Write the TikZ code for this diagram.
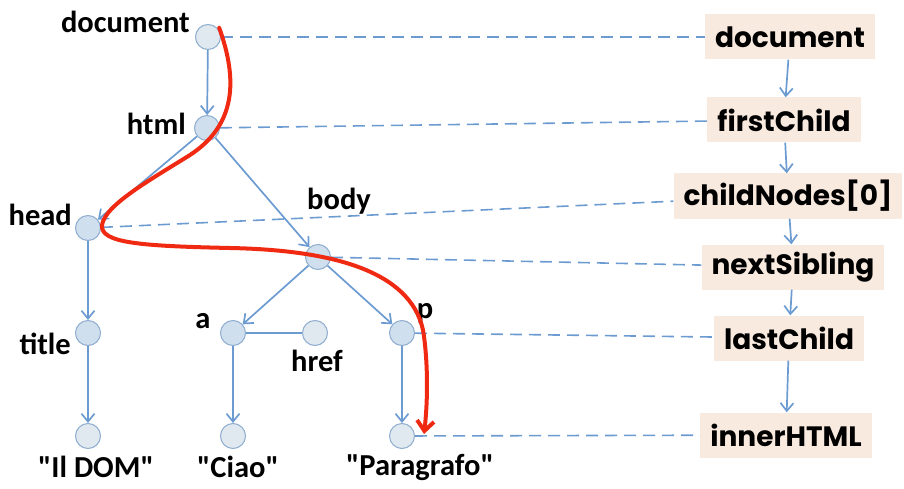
\documentclass[tikz,border=0pt]{standalone}
\usepackage{fontspec}
\setmainfont{Carlito}[Ligatures=TeXOff]
\newfontfamily\boxfont{Poppins}
\usetikzlibrary{arrows.meta}
\definecolor{lineblue}{HTML}{6C9BD2}
\definecolor{nodefill}{HTML}{CFDFEE}
\definecolor{leaffill}{HTML}{E0E8F0}
\definecolor{nodeborder}{HTML}{8EADCF}
\definecolor{boxfill}{HTML}{F9EAE0}
\definecolor{pathred}{HTML}{F02A12}
\begin{document}
\begin{tikzpicture}[x=1pt,y=-1pt,
  dom/.style={circle, draw=nodeborder, line width=1pt, fill=nodefill, minimum size=25pt, inner sep=0pt},
  leaf/.style={dom, fill=leaffill},
  lbl/.style={font=\fontsize{30.5}{33}\selectfont\bfseries, inner sep=0pt},
  prop/.style={fill=boxfill, font=\boxfont\fontsize{28}{30}\selectfont\bfseries, minimum height=45pt, inner xsep=10pt},
  edge/.style={draw=lineblue, line width=1.7pt, -{Straight Barb[length=8pt,width=13pt]}},
  link/.style={draw=lineblue, line width=1.6pt, dash pattern=on 12pt off 7pt}]
  \useasboundingbox (0,0) rectangle (904,489);
  % DOM tree
  \node[leaf] (doc) at (208,37) {};
  \node[dom] (html) at (207,128) {};
  \node[dom] (head) at (88,228) {};
  \node[dom] (body) at (318,257) {};
  \node[dom] (title) at (88,333) {};
  \node[dom] (a) at (233,333) {};
  \node[leaf] (href) at (315,333) {};
  \node[dom] (p) at (402,333) {};
  \node[leaf] (t1) at (88,436) {};
  \node[leaf] (t2) at (233,436) {};
  \node[leaf] (t3) at (402,436) {};
  % tree labels
  \node[lbl, anchor=east] at (190,22) {document};
  \node[lbl, anchor=east] at (186,124) {html};
  \node[lbl, anchor=east] at (72,215) {head};
  \node[lbl] at (339,201) {body};
  \node[lbl, anchor=east] at (71,344) {title};
  \node[lbl] at (203,321) {a};
  \node[lbl] at (317,361) {href};
  \node[lbl] at (425,313) {p};
  \node[lbl] at (96,467) {"Il DOM"};
  \node[lbl] at (238,467) {"Ciao"};
  \node[lbl] at (420,467) {"Paragrafo"};
  % tree edges
  \draw[edge] (doc) -- (html);
  \draw[edge] (html) -- (head);
  \draw[edge] (html) -- (body);
  \draw[edge] (head) -- (title);
  \draw[edge] (title) -- (t1);
  \draw[edge] (body) -- (a);
  \draw[edge] (body) -- (p);
  \draw[draw=lineblue, line width=1.7pt] (a) -- (href);
  \draw[edge] (a) -- (t2);
  \draw[edge] (p) -- (t3);
  % property chain
  \node[prop] (rdoc) at (790,37) {document};
  \node[prop] (rfirst) at (784,120) {firstChild};
  \node[prop] (rchild) at (788,196) {childNodes[0]};
  \node[prop] (rnext) at (793,267) {nextSibling};
  \node[prop] (rlast) at (789,338) {lastChild};
  \node[prop] (rinner) at (786,435) {innerHTML};
  \draw[edge] (rdoc) -- (rfirst);
  \draw[edge] (rfirst) -- (rchild);
  \draw[edge] (rchild) -- (rnext);
  \draw[edge] (rnext) -- (rlast);
  \draw[edge] (rlast) -- (rinner);
  % dashed links
  \draw[link] (doc) -- (rdoc);
  \draw[link] (html) -- (rfirst);
  \draw[link] (head) -- (rchild);
  \draw[link] (body) -- (rnext);
  \draw[link] (p) -- (rlast);
  \draw[link] (t3) -- (rinner);
  % navigation path
  \draw[pathred, line width=4pt, line cap=round, -{Straight Barb[length=10pt,width=17pt]}]
    ([xshift=2pt]doc.north east) .. controls (238,80) and (236,125) .. (190,155)
    .. controls (150,180) and (105,205) .. (102,225)
    .. controls (100,243) and (140,246) .. (230,248)
    .. controls (330,250) and (410,270) .. (423,330)
    .. controls (428,360) and (428,400) .. (424,434);
\end{tikzpicture}
\end{document}
